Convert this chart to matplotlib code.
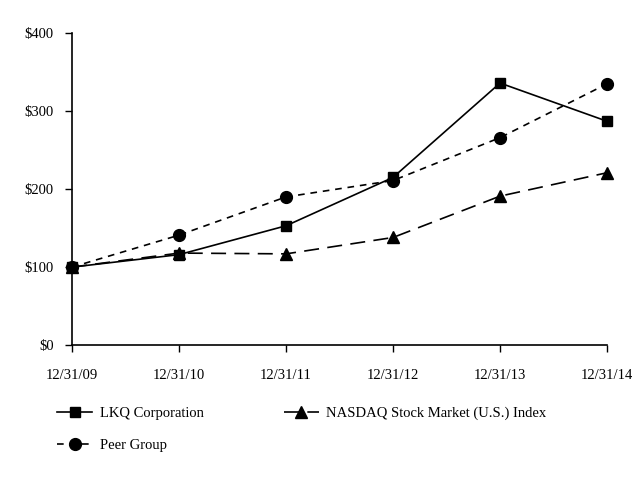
import matplotlib
matplotlib.use("Agg")
import matplotlib.pyplot as plt
from matplotlib.ticker import FuncFormatter

plt.rcParams.update({"font.family": "Liberation Serif", "font.size": 10.5})

dates = ["12/31/09", "12/31/10", "12/31/11", "12/31/12", "12/31/13", "12/31/14"]
lkq = [100, 116, 153, 215, 336, 287]
nasdaq = [100, 118, 117, 138, 191, 221]
peer = [100, 141, 190, 211, 266, 335]

fig = plt.figure(figsize=(6.4, 4.8), dpi=100)
ax = fig.add_axes([0.1125, 0.281, 0.836, 0.65])
x = range(len(dates))

l1, = ax.plot(x, lkq, color="black", lw=1.2, marker="s", ms=7.5,
              label="LKQ Corporation", zorder=3, clip_on=False)
l2, = ax.plot(x, nasdaq, color="black", lw=1.2, marker="^", ms=8,
              dashes=(9, 5), label="NASDAQ Stock Market (U.S.) Index",
              zorder=2, clip_on=False)
l3, = ax.plot(x, peer, color="black", lw=1.2, marker="o", ms=8.5,
              dashes=(4, 3.5), label="Peer Group", zorder=2, clip_on=False)

ax.set_xlim(0, 5)
ax.set_ylim(0, 400)
ax.set_yticks([0, 100, 200, 300, 400])
ax.yaxis.set_major_formatter(FuncFormatter(lambda v, p: f"${v:.0f}"))
ax.set_xticks(list(x))
ax.set_xticklabels(dates)
for s in ("top", "right"):
    ax.spines[s].set_visible(False)
ax.spines["left"].set_linewidth(1.2)
ax.spines["bottom"].set_linewidth(1.2)
ax.tick_params(direction="out", length=5, width=1, pad=12)
ax.tick_params(axis="y", pad=8)

kw = dict(frameon=False, handlelength=2.4, handletextpad=0.5, labelspacing=1.3,
          fontsize=10.5)
fig.legend(handles=[l1, l3], loc="upper left", bbox_to_anchor=(0.069, 0.18), **kw)
fig.legend(handles=[l2], loc="upper left", bbox_to_anchor=(0.423, 0.18), **kw)

fig.savefig("out.png", dpi=100)
